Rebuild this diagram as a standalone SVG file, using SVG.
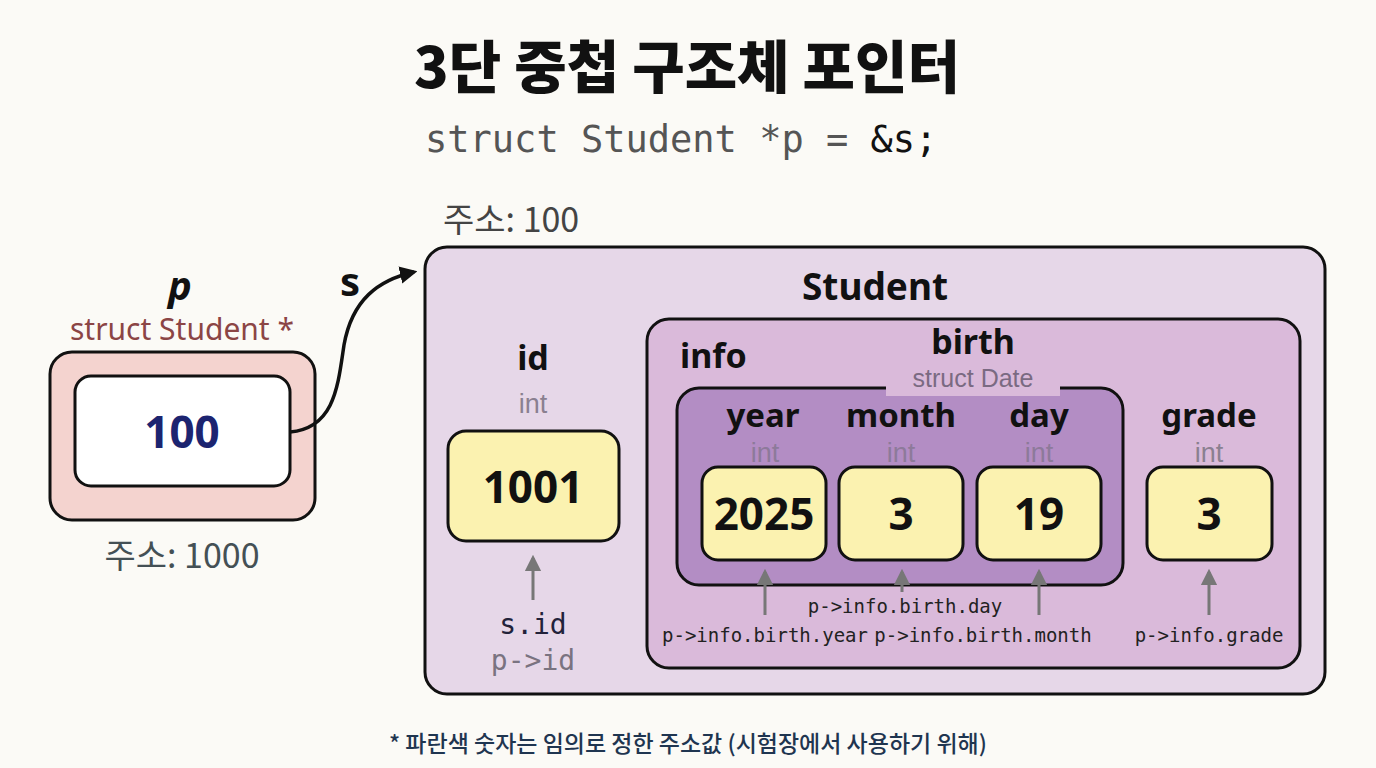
<svg xmlns="http://www.w3.org/2000/svg" width="1376" height="768" viewBox="0 0 1376 768">
<style>
.sans{font-family:"Noto Sans","Noto Sans CJK KR",sans-serif}
.kr{font-family:"Noto Sans CJK KR","Noto Sans",sans-serif}
.mono{font-family:"DejaVu Sans Mono","Liberation Mono",monospace}
.b{font-weight:700}
.lbl{font-family:"Noto Sans","Noto Sans CJK KR",sans-serif;font-weight:700;font-size:34px;fill:#111;text-anchor:middle}
.typ{font-family:"Liberation Sans","Noto Sans",sans-serif;font-size:27px;fill:#8a8090;text-anchor:middle}
.val{fill:#fbf2b0;stroke:#111;stroke-width:3}
.num{font-family:"Noto Sans",sans-serif;font-weight:700;font-size:44px;fill:#111;text-anchor:middle}
.acc{font-family:"DejaVu Sans Mono","Liberation Mono",monospace;font-size:19px;fill:#222;text-anchor:middle}
.garr{stroke:#777;stroke-width:3;fill:none}
</style>
<defs>
<marker id="ah" viewBox="0 0 10 10" refX="8" refY="5" markerWidth="5" markerHeight="5" orient="auto"><path d="M0,0 L10,5 L0,10 z" fill="#111"/></marker>
<marker id="gh" viewBox="0 0 10 10" refX="8" refY="5" markerWidth="5.5" markerHeight="5.5" orient="auto"><path d="M0,0 L10,5 L0,10 z" fill="#777"/></marker>
</defs>
<rect width="1376" height="768" fill="#fbfaf6"/>
<g id="title">
<text x="687" y="88" class="kr" font-weight="900" font-size="57" text-anchor="middle" fill="#111">3단 중첩 구조체 포인터</text>
<text x="425" y="152" class="mono" font-size="37" fill="#555">struct Student *p = <tspan fill="#111">&amp;s;</tspan></text>
</g>
<g id="pointer-p">
<text x="180" y="300" class="sans b" font-style="italic" font-size="40" text-anchor="middle" fill="#111">p</text>
<text x="182" y="340" class="sans" font-size="30" text-anchor="middle" fill="#8b4545">struct Student *</text>
<rect x="50" y="352" width="265" height="168" rx="22" fill="#f4d3cf" stroke="#111" stroke-width="3"/>
<rect x="75" y="376" width="215" height="110" rx="16" fill="#fff" stroke="#111" stroke-width="3"/>
<text x="182" y="448" class="num" style="fill:#1c2470">100</text>
<text x="182" y="568" class="kr" font-size="34" text-anchor="middle" fill="#445055">주소: 1000</text>
</g>
<g id="student">
<text x="443" y="232" class="kr" font-size="34" fill="#444">주소: 100</text>
<rect x="425" y="247" width="900" height="447" rx="22" fill="#e6d7e8" stroke="#111" stroke-width="3"/>
<text x="875" y="300" class="lbl" style="font-size:37px">Student</text>
</g>
<g id="field-id">
<text x="533" y="370" class="lbl">id</text>
<text x="533" y="413" class="typ">int</text>
<rect x="448" y="431" width="171" height="110" rx="18" class="val"/>
<text x="533" y="503" class="num">1001</text>
<text x="533" y="634" class="mono" font-size="28" text-anchor="middle" fill="#22223a">s.id</text>
<text x="533" y="670" class="mono" font-size="28" text-anchor="middle" fill="#7a7380">p-&gt;id</text>
</g>
<g id="field-info">
<rect x="647" y="319" width="653" height="349" rx="22" fill="#dabada" stroke="#111" stroke-width="3"/>
<text x="680" y="368" class="sans b" font-size="34" fill="#111">info</text>
</g>
<g id="field-birth">
<text x="973" y="354" class="lbl">birth</text>
<rect x="677" y="388" width="446" height="197" rx="22" fill="#b38dc4" stroke="#111" stroke-width="3"/>
<rect x="886" y="370" width="174" height="26" fill="#dabada"/>
<text x="973" y="387" class="typ" style="fill:#7a6a82;font-size:25px">struct Date</text>
</g>
<g id="field-year">
<text x="763" y="427" class="lbl" style="font-size:33px">year</text>
<text x="765" y="462" class="typ" style="fill:#8d7a9a">int</text>
<rect x="702" y="467" width="124" height="93" rx="16" class="val"/>
<text x="764" y="530" class="num">2025</text>
<text x="765" y="642" class="acc">p-&gt;info.birth.year</text>
</g>
<g id="field-month">
<text x="901" y="427" class="lbl" style="font-size:33px">month</text>
<text x="901" y="462" class="typ" style="fill:#8d7a9a">int</text>
<rect x="839" y="467" width="124" height="93" rx="16" class="val"/>
<text x="901" y="530" class="num">3</text>
<text x="983" y="642" class="acc">p-&gt;info.birth.month</text>
</g>
<g id="field-day">
<text x="1039" y="427" class="lbl" style="font-size:33px">day</text>
<text x="1039" y="462" class="typ" style="fill:#8d7a9a">int</text>
<rect x="977" y="467" width="124" height="93" rx="16" class="val"/>
<text x="1039" y="530" class="num">19</text>
<text x="905" y="613" class="acc">p-&gt;info.birth.day</text>
</g>
<g id="field-grade">
<text x="1209" y="427" class="lbl" style="font-size:33px">grade</text>
<text x="1209" y="462" class="typ">int</text>
<rect x="1147" y="467" width="125" height="93" rx="16" class="val"/>
<text x="1209" y="530" class="num">3</text>
<text x="1209" y="642" class="acc">p-&gt;info.grade</text>
</g>
<g id="footnote">
<text x="688" y="752" class="kr" font-weight="500" font-size="23" text-anchor="middle" fill="#1f3550">* 파란색 숫자는 임의로 정한 주소값 (시험장에서 사용하기 위해)</text>
</g>
<g id="connectors">
<path d="M290,432 C335,428 338,385 344,345 C352,300 378,280 414,272" fill="none" stroke="#111" stroke-width="3.5" marker-end="url(#ah)"/>
<text x="350" y="296" class="sans b" font-size="40" text-anchor="middle" fill="#111">s</text>
<line x1="533" y1="600" x2="533" y2="558" class="garr" marker-end="url(#gh)"/>
<line x1="765" y1="615" x2="765" y2="572" class="garr" marker-end="url(#gh)"/>
<line x1="902" y1="592" x2="902" y2="572" class="garr" marker-end="url(#gh)"/>
<line x1="1039" y1="615" x2="1039" y2="572" class="garr" marker-end="url(#gh)"/>
<line x1="1209" y1="615" x2="1209" y2="572" class="garr" marker-end="url(#gh)"/>
</g>
</svg>
